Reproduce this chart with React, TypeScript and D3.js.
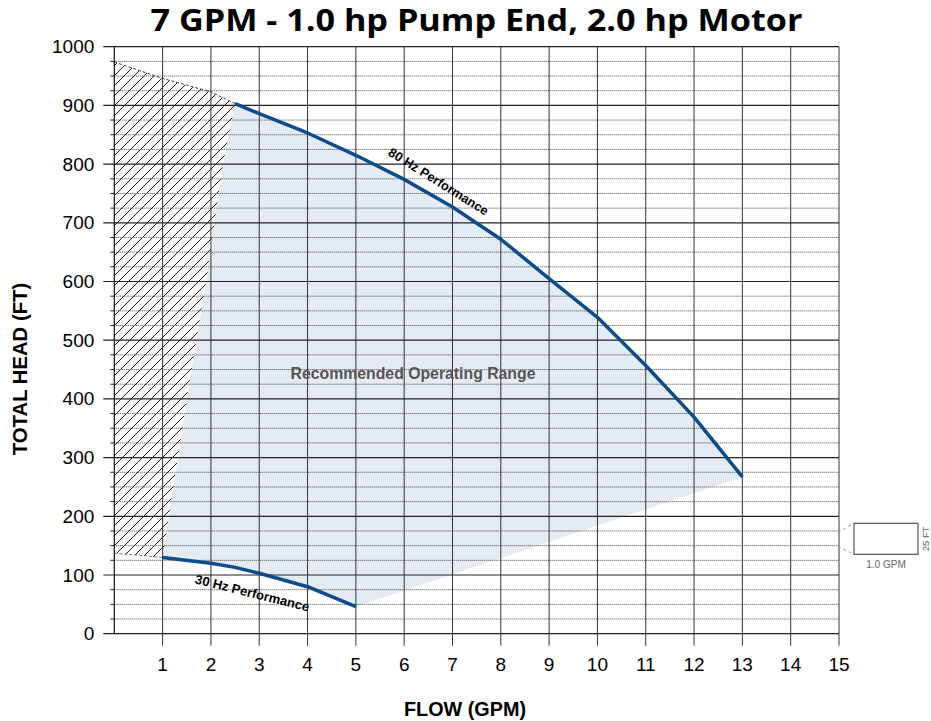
import { scaleLinear, line, range } from "d3";

// 80 Hz performance curve (flow GPM, head FT)
const flow80 = [2.5, 3, 4, 5, 6, 7, 8, 9, 10, 11, 12, 13];
const head80 = [903, 886, 853, 815, 774, 727, 672, 605, 539, 457, 369, 267];

// 30 Hz performance curve
const flow30 = [1, 2, 2.5, 3, 4, 5];
const head30 = [130, 120, 113, 103, 80, 46];

// left edge of the recommended range (bottom -> top)
const edgeFlow = [1, 1.5, 1.9, 2.25, 2.5];
const edgeHead = [130, 400, 600, 800, 903];

// dashed outline of the hatched area
const hatchTopFlow = [0, 1, 2, 2.5];
const hatchTopHead = [974, 946, 923, 903];
const hatchBottomFlow = [0, 1];
const hatchBottomHead = [137, 130];

const xTicks = [1, 2, 3, 4, 5, 6, 7, 8, 9, 10, 11, 12, 13, 14, 15];
const yTicks = [0, 100, 200, 300, 400, 500, 600, 700, 800, 900, 1000];

const title = "7 GPM - 1.0 hp Pump End, 2.0 hp Motor";

type Pt = [number, number];
const zip = (a: number[], b: number[]): Pt[] => a.map((v, i) => [v, b[i]]);

export default function App() {
  const width = 931;
  const height = 721;
  const margin = { left: 114.3, right: 92, top: 46.7, bottom: 87.3 };

  const x = scaleLinear().domain([0, 15]).range([margin.left, width - margin.right]);
  const y = scaleLinear().domain([0, 1000]).range([height - margin.bottom, margin.top]);

  const sans = "'Liberation Sans', Arial, Helvetica, sans-serif";
  const blue = "#0b4c8c";

  const p80 = zip(flow80, head80);
  const p30 = zip(flow30, head30);
  const edge = zip(edgeFlow, edgeHead);

  const lin = line<Pt>().x((d) => x(d[0])).y((d) => y(d[1]));

  // recommended operating range polygon
  const rangePoly: Pt[] = [...p80, ...p30.slice().reverse(), ...edge];
  // hatched (not recommended) area
  const hatchPoly: Pt[] = [
    ...zip(hatchTopFlow, hatchTopHead),
    ...edge.slice().reverse(),
    ...zip(hatchBottomFlow, hatchBottomHead).reverse(),
  ];

  const minor = range(25, 1000, 25).filter((v) => v % 100 !== 0);
  const x0 = x(0);
  const x15 = x(15);

  // inset scale box at the right
  const box = { x: x15 + 15, y: y(188), w: 64, h: 31 };

  return (
    <div style={{ position: "absolute", left: 0, top: 0 }}>
      <svg width={width} height={height} viewBox={`0 0 ${width} ${height}`} style={{ display: "block", background: "#fff" }}>
        <defs>
          <pattern id="hatch" patternUnits="userSpaceOnUse" width={10} height={10}>
            <path d="M-1,1 l2,-2 M0,10 l10,-10 M9,11 l2,-2" stroke="#000" strokeWidth={0.9} />
          </pattern>
        </defs>

        <text
          x={476.5}
          y={31}
          textAnchor="middle"
          fontFamily="'Open Sans', sans-serif"
          fontWeight={700}
          fontSize={30}
          textLength={652}
          lengthAdjust="spacingAndGlyphs"
        >
          {title}
        </text>

        {/* shaded areas */}
        <path d={lin(rangePoly) + "Z"} fill="#e4ebf2" />
        <path d={lin(hatchPoly) + "Z"} fill="url(#hatch)" />
        <path d={lin(zip(hatchTopFlow, hatchTopHead)) ?? ""} fill="none" stroke="#444" strokeDasharray="3,2" strokeWidth={1} />
        <path d={lin(zip(hatchBottomFlow, hatchBottomHead)) ?? ""} fill="none" stroke="#777" strokeDasharray="3,2" strokeWidth={1} />

        {/* grid */}
        {minor.map((v) => (
          <g key={"m" + v}>
            <line x1={x0} x2={x15} y1={y(v)} y2={y(v)} stroke="#444" strokeDasharray="1,1" strokeWidth={1} />
            <line x1={x0 - 4} x2={x0} y1={y(v)} y2={y(v)} stroke="#222" strokeWidth={1} />
          </g>
        ))}
        {yTicks.map((v) => (
          <line key={"h" + v} x1={x0 - 11} x2={x15} y1={y(v)} y2={y(v)} stroke="#222" strokeWidth={1.2} />
        ))}
        {xTicks.map((v) => (
          <line key={"v" + v} x1={x(v)} x2={x(v)} y1={y(1000)} y2={y(0) + 12} stroke="#333" strokeWidth={1} />
        ))}
        <line x1={x0} x2={x0} y1={y(1000)} y2={y(0)} stroke="#111" strokeWidth={1.2} />

        {/* tick labels */}
        {yTicks.map((v) => (
          <text key={"yl" + v} x={x0 - 20} y={y(v) + 6.5} textAnchor="end" fontFamily={sans} fontSize={19}>
            {v}
          </text>
        ))}
        {xTicks.map((v) => (
          <text key={"xl" + v} x={x(v)} y={671} textAnchor="middle" fontFamily={sans} fontSize={19}>
            {v}
          </text>
        ))}

        {/* curves */}
        <path d={lin(p80) ?? ""} fill="none" stroke={blue} strokeWidth={3.5} strokeLinejoin="round" />
        <path d={lin(p30) ?? ""} fill="none" stroke={blue} strokeWidth={3.5} strokeLinejoin="round" />

        <text
          transform={`translate(${x(6.7)},${y(769)}) rotate(32)`}
          textAnchor="middle"
          dominantBaseline="middle"
          fontFamily={sans}
          fontWeight={700}
          fontSize={12.8}
        >
          80 Hz Performance
        </text>
        <text
          transform={`translate(${x(2.85)},${y(67.6)}) rotate(14)`}
          textAnchor="middle"
          dominantBaseline="middle"
          fontFamily={sans}
          fontWeight={700}
          fontSize={13}
        >
          30 Hz Performance
        </text>
        <text x={413} y={379} textAnchor="middle" fontFamily={sans} fontWeight={700} fontSize={15.8} fill="#555">
          Recommended Operating Range
        </text>

        {/* axis titles */}
        <text transform="translate(27,369) rotate(-90)" textAnchor="middle" fontFamily={sans} fontWeight={700} fontSize={20.3}>
          TOTAL HEAD (FT)
        </text>
        <text x={465} y={716} textAnchor="middle" fontFamily={sans} fontWeight={700} fontSize={19.8}>
          FLOW (GPM)
        </text>

        {/* scale inset */}
        <line x1={x15 - 1} y1={box.y + 9} x2={box.x} y2={box.y} stroke="#999" strokeDasharray="3,3" />
        <line x1={x15 - 1} y1={box.y + 23} x2={box.x} y2={box.y + box.h} stroke="#999" strokeDasharray="3,3" />
        <rect x={box.x} y={box.y} width={box.w} height={box.h} fill="#fff" stroke="#555" strokeWidth={1.2} />
        <text x={box.x + box.w / 2} y={box.y + box.h + 14} textAnchor="middle" fontFamily={sans} fontSize={10} fill="#666">
          1.0 GPM
        </text>
        <text
          transform={`translate(${box.x + box.w + 11},${box.y + box.h / 2}) rotate(-90)`}
          textAnchor="middle"
          fontFamily={sans}
          fontSize={9.5}
          fill="#666"
        >
          25 FT
        </text>
      </svg>
    </div>
  );
}
